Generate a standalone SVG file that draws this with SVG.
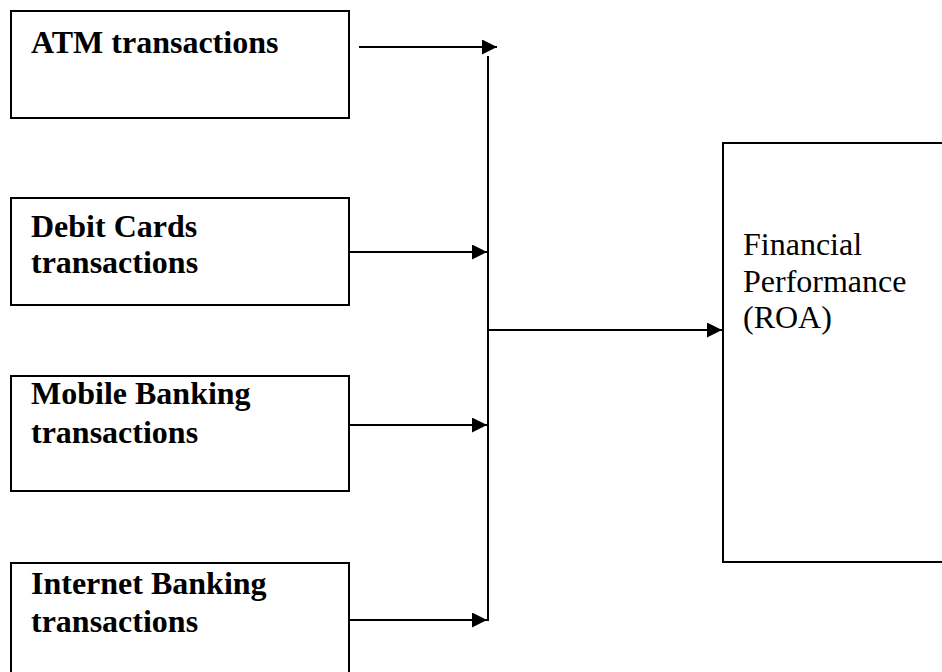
<svg xmlns="http://www.w3.org/2000/svg" width="942" height="672" viewBox="0 0 942 672">
<defs>
<style>
.box{fill:#fff;stroke:#000;stroke-width:2}
.ln{fill:none;stroke:#000;stroke-width:2}
.b{font-family:"Liberation Serif","Times New Roman",serif;font-weight:bold;font-size:32px;fill:#000}
.r{font-family:"Liberation Serif","Times New Roman",serif;font-size:32px;fill:#000}
</style>
<marker id="ah" viewBox="0 0 10 10" refX="10" refY="5" markerWidth="15" markerHeight="15" markerUnits="userSpaceOnUse" orient="auto">
<path d="M0,0 L10,5 L0,10 Z" fill="#000"/>
</marker>
</defs>
<rect width="942" height="672" fill="#fff"/>
<g id="atm">
<rect class="box" x="11" y="11" width="338" height="107"/>
<text class="b" x="31" y="53">ATM transactions</text>
</g>
<g id="debit">
<rect class="box" x="11" y="198" width="338" height="107"/>
<text class="b" x="31" y="237">Debit Cards</text>
<text class="b" x="31" y="273">transactions</text>
</g>
<g id="mobile">
<rect class="box" x="11" y="376" width="338" height="115"/>
<text class="b" x="31" y="404">Mobile Banking</text>
<text class="b" x="31" y="443">transactions</text>
</g>
<g id="internet">
<rect class="box" x="11" y="563" width="338" height="120"/>
<text class="b" x="31" y="594">Internet Banking</text>
<text class="b" x="31" y="632">transactions</text>
</g>
<g id="roa">
<rect class="box" x="723" y="143" width="230" height="419"/>
<text class="r" x="743" y="255">Financial</text>
<text class="r" x="743" y="292">Performance</text>
<text class="r" x="743" y="328">(ROA)</text>
</g>
<g id="connectors">
<line class="ln" x1="359" y1="47" x2="497" y2="47" marker-end="url(#ah)"/>
<line class="ln" x1="488" y1="56" x2="488" y2="621"/>
<line class="ln" x1="349" y1="252" x2="487" y2="252" marker-end="url(#ah)"/>
<line class="ln" x1="349" y1="425" x2="487" y2="425" marker-end="url(#ah)"/>
<line class="ln" x1="349" y1="620" x2="487" y2="620" marker-end="url(#ah)"/>
<line class="ln" x1="488" y1="330" x2="722" y2="330" marker-end="url(#ah)"/>
</g>
</svg>
